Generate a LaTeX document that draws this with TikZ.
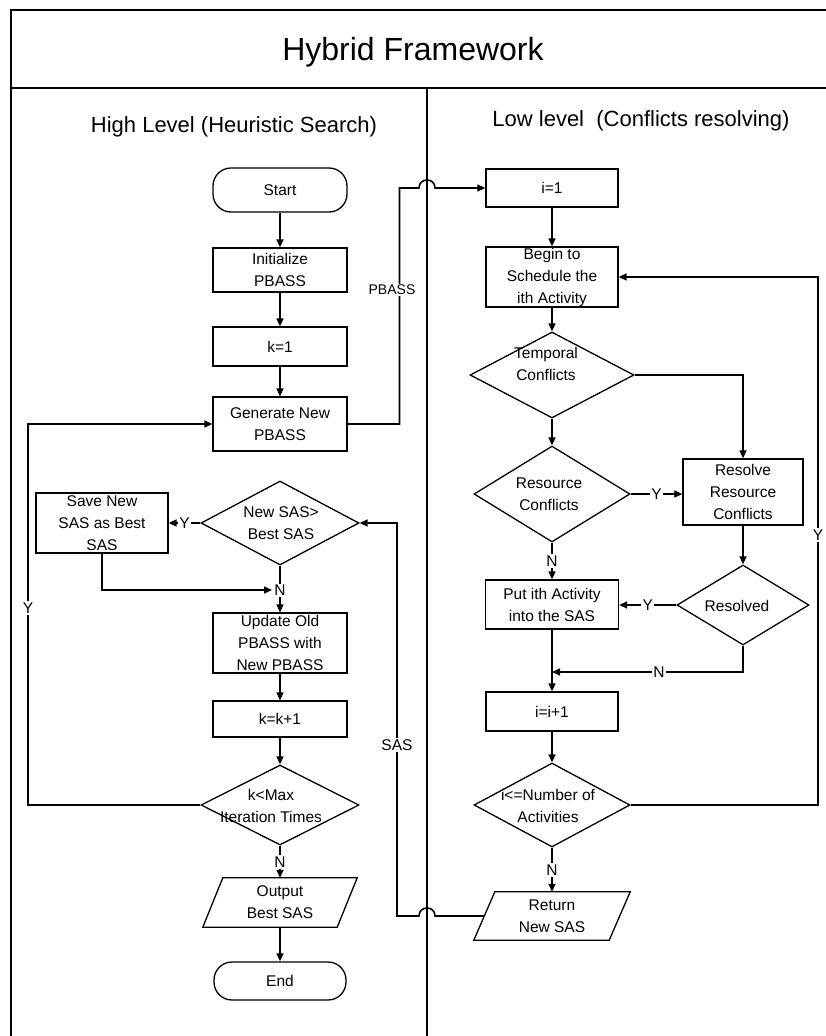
\documentclass[tikz,border=0pt]{standalone}
\usepackage{fontspec}
\setmainfont{Liberation Sans}
\usetikzlibrary{shapes.geometric,arrows.meta,calc}

\begin{document}
\begin{tikzpicture}[x=1pt,y=-1pt,
  every node/.style={font=\fontsize{15.5}{22}\selectfont, inner sep=0pt},
  box/.style={draw, line width=1.3pt, minimum width=134pt, align=center},
  term/.style={box, rounded corners=18pt},
  dia/.style={draw, diamond, line width=1.3pt},
  txt/.style={align=center},
  lbl/.style={fill=white, inner sep=1.5pt},
  frame/.style={line width=1.3pt},
  flow/.style={line width=1.6pt, line join=miter},
  arr/.style={flow, -{Triangle[length=8pt,width=7pt]}},
]
\useasboundingbox (0,0) rectangle (826,1036);

% frame, title band and column divider
\draw[frame] (840,10) -- (11,10) -- (11,1050);
\draw[frame] (11,88) -- (840,88);
\draw[frame] (427,88) -- (427,1050);
\node[font=\fontsize{32}{36}\selectfont] (title) at (413,52) {Hybrid Framework};
\node[font=\fontsize{22}{26}\selectfont] (hl) at (234,127) {High Level (Heuristic Search)};
\node[font=\fontsize{22}{26}\selectfont] (ll) at (641,121) {Low level\ \ (Conflicts resolving)};

% ---------- high level column ----------
\node[term, minimum height=44pt] (start) at (280,190) {Start};
\node[box, minimum height=44pt] (init) at (280,270) {Initialize\\PBASS};
\node[box, minimum height=39pt] (k1) at (280,346.5) {k=1};
\node[box, minimum height=54pt] (gen) at (280,424) {Generate New\\PBASS};
\node[dia, minimum width=158pt, minimum height=84pt] (cmp) at (280,523) {};
\node[txt] (cmpt) at (281,523) {New SAS>\\Best SAS};
\node[box, minimum width=132pt, minimum height=60pt] (save) at (102,523) {Save New\\SAS as Best\\SAS};
\node[box, minimum height=60pt] (upd) at (280,643) {Update Old\\PBASS with\\New PBASS};
\node[box, minimum height=36pt] (kk) at (280,719) {k=k+1};
\node[dia, minimum width=158pt, minimum height=80pt] (kmax) at (280,805) {};
\node[txt] (kmaxt) at (271,806) {k<Max\\Iteration Times};
\node[minimum width=134pt, minimum height=49pt, align=center] (out) at (280,902.5) {Output\\Best SAS};
\draw[line width=1.3pt] ([xshift=10pt]out.north west) -- ([xshift=10pt]out.north east)
  -- ([xshift=-10pt]out.south east) -- ([xshift=-10pt]out.south west) -- cycle;
\node[term, minimum width=132pt, minimum height=38pt] (end) at (280,981) {End};

% ---------- low level column ----------
\node[box, minimum width=132pt, minimum height=38pt] (i1) at (552,188) {i=1};
\node[box, minimum width=132pt, minimum height=60pt] (begin) at (552,277) {Begin to\\Schedule the\\ith Activity};
\node[dia, minimum width=164pt, minimum height=86pt] (temp) at (552,375) {};
\node[txt] (tempt) at (546,364) {Temporal\\Conflicts};
\node[dia, minimum width=156pt, minimum height=96pt] (res) at (552,494) {};
\node[txt] (rest) at (549,494) {Resource\\Conflicts};
\node[box, minimum width=120pt, minimum height=66pt] (rslv) at (743,492) {Resolve\\Resource\\Conflicts};
\node[dia, minimum width=132pt, minimum height=80pt] (rsd) at (743,605) {};
\node[txt] (rsdt) at (737,606) {Resolved};
\node[box, minimum width=133pt, minimum height=49pt] (put) at (552,604.5) {Put ith Activity\\into the SAS};
\node[box, minimum width=132pt, minimum height=39pt] (ii) at (552,711.5) {i=i+1};
\node[dia, minimum width=156pt, minimum height=84pt] (inum) at (552,805) {};
\node[txt] (inumt) at (548,806) {i<=Number of\\Activities};
\node[minimum width=135pt, minimum height=48pt, align=center] (ret) at (552,916) {Return\\New SAS};
\draw[line width=1.3pt] ([xshift=10.5pt]ret.north west) -- ([xshift=10.5pt]ret.north east)
  -- ([xshift=-10.5pt]ret.south east) -- ([xshift=-10.5pt]ret.south west) -- cycle;

% ---------- connectors, high level ----------
\draw[arr] (start) -- (init);
\draw[arr] (init) -- (k1);
\draw[arr] (k1) -- (gen);
\coordinate (pbturn) at (399.5,188);
\coordinate (hopAl) at (419,188);
\coordinate (hopAr) at (435,188);
\draw[arr] (gen.east) -| (pbturn) -- (hopAl) .. controls (419,177.3) and (435,177.3) .. (hopAr) -- (i1.west);
\node[lbl, font=\fontsize{14}{16}\selectfont] (pbl) at (392,290) {PBASS};

\coordinate (loopL) at (28,805);
\draw[arr] (kmax.west) -- (loopL) |- (gen.west);
\node[lbl] (yl) at (28,608) {Y};

\draw[arr] (cmp.west) -- node[lbl]{Y} (save.east);
\draw[arr] (cmp.south) -- node[lbl, pos=0.53]{N} (upd.north);
\coordinate (mrg) at (272,590);
\draw[arr] (save.south) |- (mrg);
\draw[arr] (upd) -- (kk);
\draw[arr] (kk) -- (kmax);
\draw[arr] (kmax.south) -- node[lbl]{N} (out.north);
\draw[arr] (out.south) -- (end.north);

\coordinate (hopBr) at (435,916);
\coordinate (hopBl) at (419,916);
\coordinate (sasturn) at (397,916);
\draw[arr] (ret.west) -- (hopBr) .. controls (435,905.3) and (419,905.3) .. (hopBl) -- (sasturn) |- (cmp.east);
\node[lbl] (sasl) at (397,745) {SAS};

% ---------- connectors, low level ----------
\draw[arr] (i1) -- (begin);
\draw[arr] (begin) -- (temp);
\draw[arr] (temp.south) -- (res.north);
\draw[arr] (temp.east) -| (rslv.north);
\draw[arr] (res.east) -- node[lbl]{Y} (res.east -| rslv.west);
\draw[arr] (res.south) -- node[lbl]{N} (put.north);
\draw[arr] (rslv.south) -- (rsd.north);
\draw[arr] (rsd.west) -- node[lbl]{Y} (rsd.west -| put.east);
\coordinate (join) at (552,672);
\draw[arr] (rsd.south) |- node[lbl, pos=0.72]{N} (join);
\draw[arr] (put.south) -- (ii.north);
\draw[arr] (ii) -- (inum);
\draw[arr] (inum.south) -- node[lbl]{N} (ret.north);
\coordinate (loopR) at (818,805);
\draw[arr] (inum.east) -- (loopR) |- (begin.east);
\node[lbl] (yr) at (818,535) {Y};
\end{tikzpicture}
\end{document}
